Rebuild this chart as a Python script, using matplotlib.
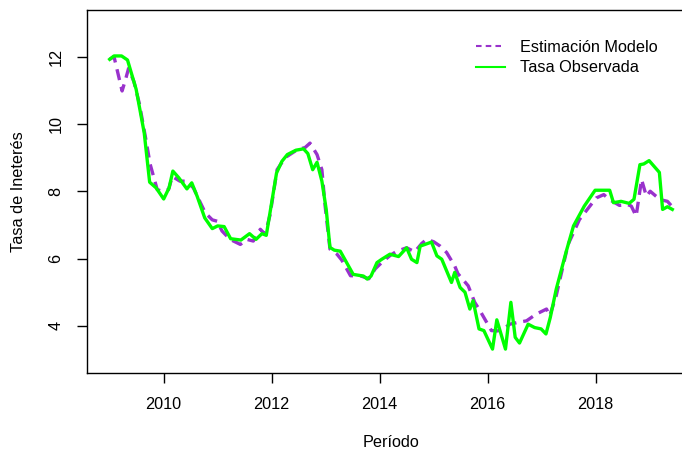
from matplotlib import pyplot as plt
from matplotlib.lines import Line2D
import numpy as np

plt.rcParams['font.family'] = ['Liberation Sans', 'DejaVu Sans']
plt.rcParams['lines.scale_dashes'] = False

## Données

# Tasa observada (vert)
t_obs = [2009.00, 2009.08, 2009.22, 2009.33, 2009.49, 2009.64, 2009.74, 2009.86,
         2010.00, 2010.10, 2010.17, 2010.28, 2010.43, 2010.52, 2010.62, 2010.76,
         2010.90, 2011.00, 2011.12, 2011.24, 2011.43, 2011.59, 2011.71, 2011.82,
         2011.90, 2012.09, 2012.19, 2012.29, 2012.45, 2012.59, 2012.67, 2012.76,
         2012.84, 2012.93, 2013.01, 2013.08, 2013.16, 2013.27, 2013.51, 2013.70,
         2013.77, 2013.84, 2013.95, 2014.04, 2014.19, 2014.35, 2014.50, 2014.59,
         2014.69, 2014.75, 2014.84, 2014.96, 2015.06, 2015.15, 2015.33, 2015.39,
         2015.49, 2015.58, 2015.67, 2015.73, 2015.84, 2015.93, 2016.09, 2016.17,
         2016.33, 2016.43, 2016.51, 2016.59, 2016.75, 2016.87, 2016.99, 2017.08,
         2017.16, 2017.27, 2017.45, 2017.59, 2017.79, 2017.99, 2018.26, 2018.33,
         2018.47, 2018.62, 2018.71, 2018.82, 2018.89, 2018.99, 2019.18, 2019.24,
         2019.33, 2019.42]
tasa_obs = [11.92, 12.02, 12.02, 11.90, 11.03, 9.73, 8.27, 8.10,
            7.77, 8.10, 8.60, 8.40, 8.07, 8.25, 7.85, 7.21,
            6.89, 6.97, 6.95, 6.59, 6.55, 6.74, 6.57, 6.74,
            6.69, 8.54, 8.89, 9.09, 9.22, 9.26, 9.12, 8.64,
            8.86, 8.30, 7.46, 6.33, 6.25, 6.22, 5.53, 5.48,
            5.39, 5.48, 5.88, 5.98, 6.13, 6.06, 6.32, 5.98,
            5.88, 6.37, 6.42, 6.49, 6.08, 5.98, 5.29, 5.59,
            5.14, 5.00, 4.50, 4.75, 3.91, 3.86, 3.31, 4.18,
            3.31, 4.70, 3.66, 3.49, 4.05, 3.95, 3.91, 3.76,
            4.25, 5.09, 6.18, 6.97, 7.56, 8.03, 8.03, 7.66,
            7.70, 7.64, 7.76, 8.79, 8.81, 8.91, 8.56, 7.46,
            7.54, 7.46]

# Estimación del modelo (violet)
t_mod = [2009.00, 2009.08, 2009.23, 2009.29, 2009.35, 2009.45, 2009.55, 2009.66,
         2009.75, 2009.88, 2009.97, 2010.09, 2010.16, 2010.30, 2010.43, 2010.55,
         2010.68, 2010.77, 2010.90, 2010.99, 2011.08, 2011.23, 2011.42, 2011.54,
         2011.66, 2011.79, 2011.88, 2011.97, 2012.10, 2012.25, 2012.47, 2012.62,
         2012.71, 2012.84, 2012.93, 2012.99, 2013.08, 2013.21, 2013.30, 2013.46,
         2013.64, 2013.80, 2013.92, 2014.05, 2014.20, 2014.32, 2014.50, 2014.65,
         2014.78, 2014.87, 2015.00, 2015.12, 2015.24, 2015.39, 2015.45, 2015.64,
         2015.76, 2015.84, 2015.98, 2016.07, 2016.18, 2016.29, 2016.41, 2016.55,
         2016.72, 2016.90, 2017.09, 2017.15, 2017.27, 2017.34, 2017.49, 2017.70,
         2018.01, 2018.15, 2018.26, 2018.44, 2018.60, 2018.66, 2018.75, 2018.85,
         2018.94, 2019.01, 2019.12, 2019.20, 2019.33, 2019.43]
tasa_mod = [11.92, 12.00, 10.98, 11.30, 11.65, 11.25, 10.60, 9.63,
            8.80, 8.05, 8.00, 8.05, 8.44, 8.30, 8.30, 8.10,
            7.66, 7.36, 7.15, 7.11, 6.82, 6.57, 6.42, 6.57,
            6.52, 6.87, 6.72, 7.30, 8.64, 9.00, 9.23, 9.30,
            9.43, 9.09, 8.64, 7.56, 6.28, 6.13, 5.95, 5.49,
            5.49, 5.40, 5.70, 5.90, 6.10, 6.22, 6.32, 6.20,
            6.45, 6.57, 6.50, 6.37, 6.18, 5.78, 5.55, 5.19,
            4.70, 4.50, 4.11, 3.86, 3.85, 3.91, 4.05, 4.10,
            4.15, 4.35, 4.50, 4.30, 4.90, 5.39, 6.42, 7.16,
            7.80, 7.90, 7.75, 7.58, 7.60, 7.56, 7.26, 8.35,
            7.85, 8.00, 7.85, 7.75, 7.70, 7.52]

anios = [2010, 2012, 2014, 2016, 2018]
niveles = [4, 6, 8, 10, 12]

## Figure

fig = plt.figure(figsize=(6.82, 4.51), dpi=100)
ax = fig.add_axes([87/682, 78/451, 608/682, 363.5/451])

violeta = '#9932CC'
verde = '#00FF00'
tf = 11.7

ax.plot(t_mod, tasa_mod, color=violeta, lw=2.4, dashes=(8, 5))
ax.plot(t_obs, tasa_obs, color=verde, lw=2.4)

ax.set_xlim(2008.58, 2019.84)
ax.set_ylim(2.6, 13.4)
ax.set_xticks(anios)
ax.set_yticks(niveles)
ax.tick_params(axis='both', direction='out', length=7, width=1, labelsize=tf, pad=10)
ax.tick_params(axis='y', labelrotation=90)
for lab in ax.get_yticklabels():
    lab.set_va('center')
for s in ax.spines.values():
    s.set_linewidth(1)

ax.set_xlabel('Período', fontsize=tf)
ax.set_ylabel('Tasa de Ineterés', fontsize=tf)
ax.xaxis.set_label_coords(0.5, -0.17)
ax.yaxis.set_label_coords(-0.1, 0.5)

poignees = [Line2D([], [], color=violeta, lw=1.5, dashes=(4, 3)),
            Line2D([], [], color=verde, lw=1.5)]
ax.legend(poignees, ['Estimación Modelo', 'Tasa Observada'], loc='upper left',
          bbox_to_anchor=(476/682, 1 - 40/451), bbox_transform=fig.transFigure,
          frameon=False, fontsize=tf, borderpad=0, borderaxespad=0,
          handlelength=1.8, handletextpad=0.9, labelspacing=0.33)

plt.savefig('out.png', dpi=100)
